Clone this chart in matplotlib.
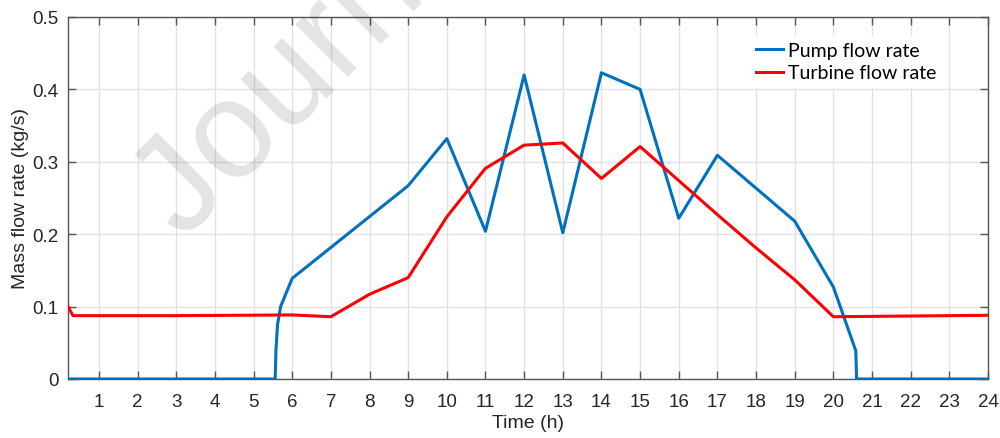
import numpy as np
import matplotlib.pyplot as plt

# hourly flow rates (kg/s)
pump_t = [0.2, 5.56, 5.58, 5.62, 5.7, 6, 9, 10, 11, 12, 13, 14, 15, 16, 17, 19, 20, 20.58, 20.6, 24]
pump_q = [0, 0, 0.04, 0.075, 0.1, 0.139, 0.267, 0.332, 0.204, 0.42, 0.202, 0.423, 0.40, 0.222, 0.309, 0.218, 0.127, 0.039, 0, 0]

turb_t = [0.2, 0.25, 0.33, 3, 6, 7, 8, 9, 10, 11, 12, 13, 14, 15, 16, 17, 18, 19, 20, 22, 24]
turb_q = [0.1, 0.095, 0.0875, 0.0875, 0.0885, 0.086, 0.117, 0.14, 0.224, 0.291, 0.323, 0.326, 0.277, 0.321, 0.274, 0.227, 0.181, 0.137, 0.086, 0.087, 0.088]

hours = list(range(1, 25))
flow_ticks = [0, 0.1, 0.2, 0.3, 0.4, 0.5]

plt.rcParams['font.family'] = ['Liberation Sans', 'DejaVu Sans']

fig = plt.figure(figsize=(10, 4.39), dpi=100)
ax = fig.add_axes([0.068, 0.1344, 0.920, 0.8246])

ax.plot(pump_t, pump_q, color='#0072BD', lw=2.2, label='Pump flow rate', zorder=3)
ax.plot(turb_t, turb_q, color='#FF0000', lw=2.2, label='Turbine flow rate', zorder=3)

ax.set_xlim(0.2, 24)
ax.set_ylim(0, 0.5)
ax.set_xticks(hours)
ax.set_yticks(flow_ticks)
ax.set_yticklabels(['0', '0.1', '0.2', '0.3', '0.4', '0.5'])
ax.grid(True, color='#e3e3e3', lw=1)
ax.set_axisbelow(True)
ax.tick_params(direction='in', length=6, width=1, top=True, right=True,
               colors='#555555', labelcolor='#262626', labelsize=13.5)
ax.tick_params(axis='x', pad=10)
ax.tick_params(axis='y', pad=7)
for s in ax.spines.values():
    s.set_color('#555555')
    s.set_linewidth(1)

ax.set_xlabel('Time (h)', fontsize=14, color='#262626', labelpad=3)
ax.set_ylabel('Mass flow rate (kg/s)', fontsize=14, color='#262626', labelpad=2)

leg = ax.legend(loc='upper left', bbox_to_anchor=(0.731, 0.975), frameon=True,
                fancybox=False, framealpha=1, edgecolor='white', facecolor='white',
                prop={'family': 'Lato', 'size': 14}, handlelength=1.4,
                handletextpad=0.25, borderpad=0.3, labelspacing=0.3)
leg.set_zorder(4)

# faint diagonal watermark
fig.text(0.112, 0.47, 'Journal Pre-proof', fontsize=100, color='black', alpha=0.11,
         rotation=45, ha='left', va='baseline', zorder=10)

fig.savefig('out.png', dpi=100)
